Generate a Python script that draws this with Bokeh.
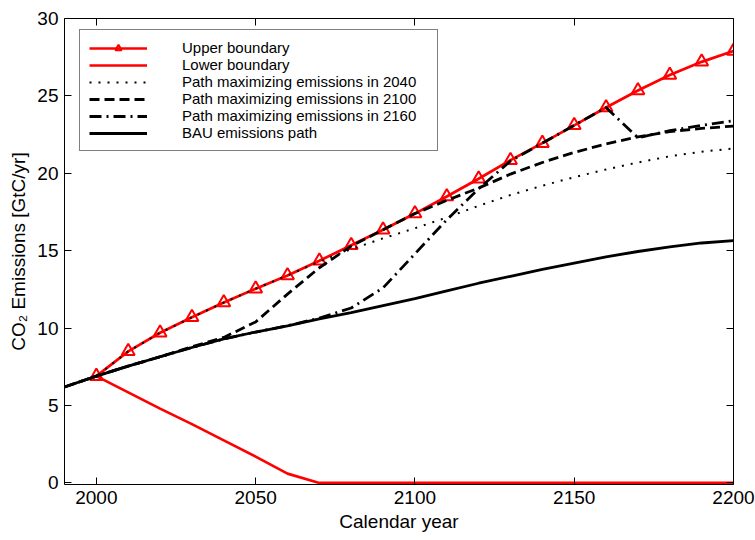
from bokeh.plotting import figure
from bokeh.models import LinearAxis, FixedTicker, Legend, LegendItem, Range1d
from bokeh.embed import file_html
from bokeh.resources import INLINE

years = list(range(1990, 2201, 10))
bound_years = list(range(2000, 2201, 10))

upper = [6.9, 8.5, 9.7, 10.7, 11.65, 12.55, 13.4, 14.35, 15.35, 16.35, 17.4,
         18.5, 19.65, 20.85, 21.95, 23.1, 24.25, 25.35, 26.35, 27.2, 27.9]
lower = [6.9, 5.85, 4.8, 3.8, 2.75, 1.7, 0.6, 0, 0, 0, 0,
         0, 0, 0, 0, 0, 0, 0, 0, 0, 0]
bau = [6.2, 6.9, 7.55, 8.15, 8.75, 9.3, 9.75, 10.15, 10.6, 11.0, 11.45,
       11.9, 12.4, 12.9, 13.35, 13.8, 14.2, 14.6, 14.95, 15.25, 15.5, 15.65]
path_2040 = [6.2, 6.9, 8.5, 9.7, 10.7, 11.65, 12.55, 13.4, 14.3, 15.1, 15.8,
             16.45, 17.15, 17.9, 18.6, 19.2, 19.75, 20.25, 20.7, 21.1, 21.4, 21.6]
path_2100 = [6.2, 6.9, 7.55, 8.15, 8.8, 9.4, 10.4, 12.2, 13.9, 15.3, 16.35,
             17.4, 18.25, 19.05, 19.95, 20.7, 21.35, 21.9, 22.35, 22.7, 22.9, 23.05]
path_2160 = [6.2, 6.9, 7.55, 8.15, 8.75, 9.3, 9.75, 10.15, 10.65, 11.3, 12.6,
             14.8, 17.0, 19.0, 20.8, 21.95, 23.1, 24.25, 22.3, 22.75, 23.1, 23.4]

x_ticks = [2000, 2050, 2100, 2150, 2200]
y_ticks = [0, 5, 10, 15, 20, 25, 30]

FONT = "Liberation Sans"

p = figure(width=755, height=540, output_backend="svg", toolbar_location=None,
           x_range=Range1d(1990, 2200), y_range=Range1d(-0.1, 30),
           min_border_left=64, min_border_right=22, min_border_top=18,
           min_border_bottom=56,
           x_axis_label="Calendar year", y_axis_label="CO\u2082 Emissions [GtC/yr]")
p.grid.visible = False
p.outline_line_color = None
p.background_fill_color = "white"
p.border_fill_color = "white"

p.xaxis.ticker = FixedTicker(ticks=x_ticks)
p.yaxis.ticker = FixedTicker(ticks=y_ticks)

for ax in [p.xaxis[0], p.yaxis[0]]:
    ax.major_tick_in = 7
    ax.major_tick_out = 0
    ax.minor_tick_line_color = None
    ax.axis_line_color = "black"
    ax.axis_line_width = 1
    ax.major_tick_line_color = "black"
    ax.major_label_text_font = FONT
    ax.major_label_text_font_size = "19px"
    ax.major_label_text_color = "black"
    ax.axis_label_text_font = FONT
    ax.axis_label_text_font_size = "19px"
    ax.axis_label_text_font_style = "normal"
    ax.axis_label_text_color = "black"
p.xaxis.major_label_standoff = 6
p.xaxis.axis_label_standoff = 4
p.yaxis.major_label_standoff = 6
p.yaxis.axis_label_standoff = 5

right = LinearAxis(ticker=FixedTicker(ticks=y_ticks), major_tick_in=7, major_tick_out=0,
                   minor_tick_line_color=None,
                   major_label_overrides={t: "" for t in y_ticks},
                   major_label_standoff=0, axis_line_color="black")
top = LinearAxis(ticker=FixedTicker(ticks=x_ticks), major_tick_in=7, major_tick_out=0,
                 minor_tick_line_color=None,
                 major_label_overrides={t: "" for t in x_ticks},
                 major_label_standoff=0, axis_line_color="black")
p.add_layout(right, "right")
p.add_layout(top, "above")

RED = "#ff0000"
r_up_line = p.line(bound_years, upper, line_color=RED, line_width=2.7)
r_up_mark = p.scatter(bound_years, upper, marker="triangle", size=13,
                      fill_color=None, line_color=RED, line_width=2)
r_low = p.line(bound_years, lower, line_color=RED, line_width=2.7)
r_2040 = p.line(years, path_2040, line_color="black", line_width=2, line_dash="2 7")
r_2100 = p.line(years, path_2100, line_color="black", line_width=2.8, line_dash="10 5")
r_2160 = p.line(years, path_2160, line_color="black", line_width=2.8, line_dash="12 5 2 5")
r_bau = p.line(years, bau, line_color="black", line_width=2.8)

legend = Legend(items=[
    LegendItem(label="Upper boundary", renderers=[r_up_line, r_up_mark]),
    LegendItem(label="Lower boundary", renderers=[r_low]),
    LegendItem(label="Path maximizing emissions in 2040", renderers=[r_2040]),
    LegendItem(label="Path maximizing emissions in 2100", renderers=[r_2100]),
    LegendItem(label="Path maximizing emissions in 2160", renderers=[r_2160]),
    LegendItem(label="BAU emissions path", renderers=[r_bau]),
], location=(15, 333))
legend.border_line_color = "black"
legend.border_line_width = 1
legend.background_fill_color = "white"
legend.background_fill_alpha = 1
legend.label_text_font = FONT
legend.label_text_font_size = "15px"
legend.label_text_color = "black"
legend.label_height = 16
legend.label_width = 246
legend.glyph_height = 16
legend.glyph_width = 58
legend.label_standoff = 35
legend.spacing = 0
legend.padding = 9
legend.margin = 0
p.add_layout(legend, "center")

open("out.html", "w").write(file_html(p, INLINE))
